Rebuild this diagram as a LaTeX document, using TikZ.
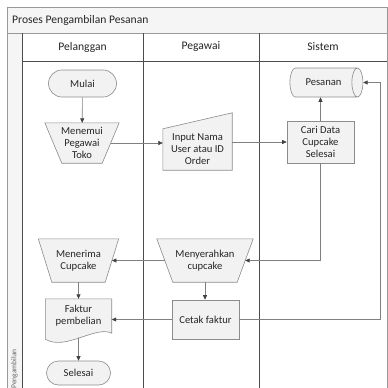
\documentclass[tikz,border=0pt]{standalone}
\usepackage{fontspec}
\setmainfont{Carlito}
\usetikzlibrary{shapes.geometric,shapes.misc,arrows.meta,backgrounds}
\begin{document}
\begin{tikzpicture}[x=1pt,y=-1pt,
    lane/.style={draw=black!70,line width=0.6pt},
    rim/.style={draw=black!40,line width=0.8pt},
    txt/.style={font=\fontsize{10.6}{12}\selectfont,align=center,inner sep=0pt,text=black!85},
    head/.style={txt,font=\fontsize{11.6}{13}\selectfont},
    shp/.style={draw=black!45,fill=black!5,line width=0.6pt},
    term/.style={txt,shp,rounded rectangle},
    flow/.style={draw=black!50,line width=0.6pt,-{Triangle[length=4.5pt,width=4pt,color=black!75]}}]
        \useasboundingbox (0,0) rectangle (388,388);
        % pool and lanes
        \begin{scope}[on background layer]
            \fill[white] (0,0) rectangle (388,388);
            \fill[black!4] (7,7) rectangle (387,33);
            \fill[black!4] (7,33) rectangle (22,388);
            \draw[rim] (7,388) -- (7,7) -- (387,7) -- (387,388);
            \draw[rim] (7,33) -- (387,33);
            \draw[lane] (22,33) -- (22,388);
            \draw[lane] (22,61) -- (387,61);
            \foreach \x in {143,259} \draw[lane] (\x,33) -- (\x,388);
        \end{scope}
        \node[head,anchor=west] (judul) at (12,20) {Proses Pengambilan Pesanan};
        \node[head] (hpelanggan) at (82.5,47) {Pelanggan};
        \node[head] (hpegawai) at (201,47) {Pegawai};
        \node[head] (hsistem) at (323,47) {Sistem};
        \node[txt,font=\fontsize{7.5}{8}\selectfont,rotate=90,anchor=east,text=black!60] (lajur) at (14.5,349) {Pengambilan};
        % steps
        \node[term,minimum width=68pt,minimum height=27pt] (mulai) at (82.5,83.5) {Mulai};
        \node[txt,minimum width=74pt,minimum height=40pt] (menemui) at (82,143) {Menemui\\Pegawai\\Toko};
        \node[txt,minimum width=69pt,minimum height=41pt] (input) at (197.5,149.5) {Input Nama\\User atau ID\\Order};
        \node[txt,shp,cylinder,aspect=1.6,minimum width=29pt,minimum height=73pt] (pesanan) at (323.5,82.5) {Pesanan};
        \node[txt,shp,minimum width=67pt,minimum height=42pt] (cari) at (320.5,142) {Cari Data\\Cupcake\\Selesai};
        \node[txt,minimum width=96pt,minimum height=43pt] (serah) at (205,260.5) {Menyerahkan\\cupcake};
        \node[txt,minimum width=80pt,minimum height=43pt] (terima) at (78.5,260.5) {Menerima\\Cupcake};
        \node[txt,shp,minimum width=67pt,minimum height=39pt] (cetak) at (205.5,319.5) {Cetak faktur};
        \node[txt,minimum width=66pt,minimum height=34pt] (faktur) at (78.5,316) {Faktur\\pembelian};
        \node[term,minimum width=64pt,minimum height=24pt] (selesai) at (78.5,373) {Selesai};
        \begin{scope}[on background layer]
            \filldraw[shp] (menemui.north west) -- (menemui.north east) -- ([xshift=-17pt]menemui.south east) -- ([xshift=17pt]menemui.south west) -- cycle;
            \filldraw[shp] (terima.north west) -- (terima.north east) -- ([xshift=-13.5pt]terima.south east) -- ([xshift=13.5pt]terima.south west) -- cycle;
            \filldraw[shp] (serah.north west) -- (serah.north east) -- ([xshift=-16pt]serah.south east) -- ([xshift=16pt]serah.south west) -- cycle;
            \filldraw[shp] (input.south west) -- (input.south east) -- ([yshift=16pt]input.north east) -- (input.north west) -- cycle;
            \filldraw[shp] (faktur.north west) -- (faktur.north east) -- (faktur.south east)
                .. controls ([shift={(-16pt,8pt)}]faktur.south east) and ([shift={(20pt,-18pt)}]faktur.south west) .. ([yshift=-6pt]faktur.south west) -- cycle;
        \end{scope}
        \coordinate (fakturbawah) at ([yshift=-4.5pt]faktur.south);
        % flows
        \draw[flow] (mulai) -- (menemui);
        \draw[flow] ([xshift=-8.5pt]menemui.east) -- (input.west |- menemui);
        \draw[flow] (input.east |- cari) -- (cari.west);
        \draw[flow] (cari.north) -- (cari.north |- pesanan.south);
        \draw[flow] (cari.south) |- ([xshift=-8pt]serah.east);
        \draw[flow] ([xshift=8pt]serah.west) -- ([xshift=-6.75pt]terima.east);
        \draw[flow] (serah.south) -- (serah.south |- cetak.north);
        \draw[flow] (terima) -- (faktur);
        \draw[flow] (cetak.west) -- (faktur.east |- cetak);
        \draw[flow] (fakturbawah) -- (selesai);
        \draw[flow] (cetak.east) -- ++(141,0) |- (pesanan.east);
    \end{tikzpicture}
\end{document}
